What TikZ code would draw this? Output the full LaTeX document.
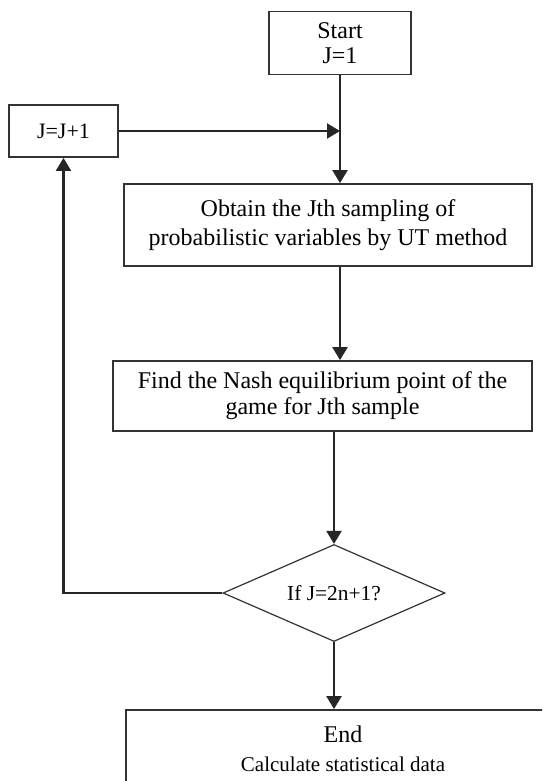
\documentclass[tikz,border=0pt]{standalone}
\usepackage{fontspec}
\setmainfont{Liberation Serif}
\usetikzlibrary{arrows.meta,positioning,shapes.geometric}

\begin{document}
\begin{tikzpicture}[
    x=0.5pt, y=-0.5pt,
    font=\fontsize{12}{14.5}\selectfont,
    stepbox/.style={draw=black!80, line width=0.9pt, align=center, inner sep=2pt},
    decide/.style={draw=black!80, line width=0.6pt, diamond, aspect=2.3, inner sep=0pt,
        minimum width=111pt, minimum height=48.5pt, font=\fontsize{10.7}{12}\selectfont},
    arrow/.style={-{Triangle[length=6.5pt, width=7.5pt]}, line width=1.1pt, draw=black!85}
]
\clip (0,0) rectangle (542,781);
\fill[white] (0,0) rectangle (542,781);

\node[stepbox, minimum width=71pt, minimum height=31.5pt, font=\fontsize{12}{12.5}\selectfont] (start) at (340,43) {Start\\J=1};
\node[stepbox, minimum width=54.5pt, minimum height=26pt, font=\fontsize{11}{13}\selectfont] (incr) at (63.5,131) {J=J+1};
\node[stepbox, minimum width=204pt, minimum height=41pt] (obtain) at (328,225)
    {Obtain the Jth sampling of\\probabilistic variables by UT method};
\node[stepbox, minimum width=209.5pt, minimum height=35pt, font=\fontsize{12}{13}\selectfont] (find) at (322.5,396)
    {Find the Nash equilibrium point of the\\game for Jth sample};
\node[decide] (test) at (334,593) {If J=2n+1?};
\node[stepbox, minimum width=217pt, minimum height=39pt] (finish) at (343,749)
    {End\\{\fontsize{10.5}{12}\selectfont Calculate statistical data}};

\draw[arrow] (start.south) -- (start.south |- obtain.north);
\draw[arrow] (incr.east) -- (incr.east -| start.south);
\draw[arrow] (start.south |- obtain.south) -- (start.south |- find.north);
\draw[arrow] (test.north |- find.south) -- (test.north);
\draw[arrow] (test.south) -- (test.south |- finish.north);
\draw[arrow] (test.west) -| (incr.south);
\end{tikzpicture}
\end{document}
